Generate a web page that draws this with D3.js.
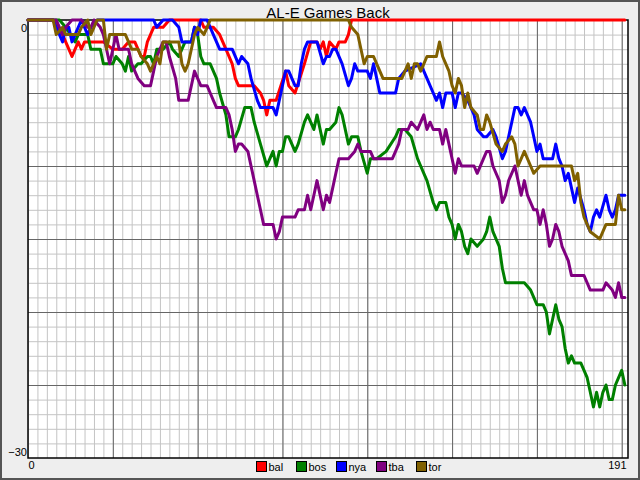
<!DOCTYPE html>
<html><head><meta charset="utf-8">
<script src="https://cdn.jsdelivr.net/npm/d3@7"></script>
<style>body{margin:0;background:#eee} svg{display:block} text{font-family:"Liberation Sans",Arial,sans-serif}</style>
</head><body><svg id="c" width="640" height="480"></svg>
<script>
const title = "AL-E Games Back";
const teams = ["bal","bos","nya","tba","tor"];
const colors = ["#ff0000","#008000","#0000ff","#800080","#806000"];
// [day, games back]
const bal = [[0,0],[8,0],[11,1],[13,2],[14,2.5],[15,2],[16,1.5],[17,2],[18,1.5],[24,1.5],[27,2],[30,2],[32,1.5],[34,1.5],[35,2],[36,2.5],[37,2.5],[38,1.5],[40,0.5],[43,0.5],[45,0],[55,0],[56,0.5],[59,0.5],[61,1],[63,2],[65,3],[66,4],[67,4.5],[72,4.5],[74,5],[75,5.5],[76,6.5],[77,5.5],[79,5.5],[82,3.5],[83,4.5],[85,5],[88,3],[90,1.5],[92,1.5],[93,2],[94,1.5],[95,2.5],[96,1.5],[98,2],[99,1.5],[101,1.5],[102,1],[103,0],[190,0]];
const bos = [[0,0],[10,0],[12,0.5],[15,1.5],[16,1],[17,1],[19,1],[20,2],[23,2],[24,3],[27,3],[28,2.5],[30,3],[31,3.5],[32,2.5],[33,3.5],[35,3],[36,3],[38,2.5],[39,2.5],[40,3],[41,2],[43,2],[45,1.5],[46,2],[48,2.5],[49,2],[50,1.5],[52,1.5],[53,0.5],[54,1],[55,2.5],[56,3],[58,3],[60,4],[61,5],[63,6.5],[64,8],[66,8],[67,7.5],[69,6],[71,6],[72,7],[74,8.5],[76,10],[77,9.5],[78,9],[79,10],[80,9],[81,9],[82,8],[83,8],[85,9],[86,8.5],[88,7],[89,6.5],[90,7],[91,7.5],[92,6.5],[93,7.5],[94,8.5],[95,7.5],[96,7.5],[98,7],[99,6],[100,6.5],[102,8.5],[103,8],[105,8],[106,9],[108,10.5],[109,9.5],[111,9.5],[114,9],[117,8],[118,7.5],[120,7.5],[122,8],[124,9.5],[125,10],[126,10.5],[127,11],[129,12.5],[130,13],[131,12.5],[133,12.5],[134,13.5],[135,14],[136,15],[137,14],[138,14.5],[139,15.5],[140,16],[141,15],[143,15.5],[145,15],[146,14.5],[147,13.5],[148,14.5],[150,15.5],[151,17],[152,18],[158,18],[160,18.5],[161,19],[162,19.5],[164,19.5],[165,20],[166,21.5],[167,20.5],[168,19.5],[169,20.5],[170,21],[171,22.5],[172,23.5],[173,23],[174,23.5],[176,23.5],[177,24],[178,24.5],[179,25.5],[180,26.5],[181,25.5],[182,26.5],[183,25.5],[184,25],[185,26],[186,26],[187,25],[188,24.5],[189,24],[190,25]];
const nya = [[0,0],[8,0],[11,1.5],[12,0.5],[13,0.5],[14,1.5],[15,1],[17,0],[18,0.5],[19,1],[20,0.5],[22,0],[40,0],[41,0.5],[43,0],[46,0],[48,0.5],[49,1.5],[52,1.5],[53,0.5],[54,1],[55,0],[57,0],[58,0.5],[60,1.5],[61,2],[65,2],[67,3],[68,2.5],[70,3],[71,4],[73,5.5],[74,6],[78,6],[79,6.5],[80,5.5],[81,4.5],[82,3.5],[83,3.5],[85,4.5],[86,4.5],[87,3],[88,2],[89,1.5],[92,1.5],[94,3],[95,2.5],[96,2.5],[97,2],[98,2],[100,3],[102,4.5],[103,4],[104,3],[105,3.5],[108,3.5],[109,4],[110,3],[111,4],[112,5],[117,5],[118,4],[120,3.5],[125,3],[127,4],[129,5],[130,5.5],[131,5],[132,6],[133,5],[135,5],[136,6],[137,5],[138,5],[140,5.5],[141,6],[142,6.5],[143,7.5],[145,8],[146,8],[148,7.5],[149,8],[151,9.5],[152,9],[153,8],[154,7],[155,6],[156,6],[157,6.5],[158,6],[160,7],[161,8],[162,9],[163,8.5],[164,9.5],[167,9.5],[168,8.5],[169,9.5],[170,10],[171,11],[172,10.5],[173,11.5],[174,12.5],[175,11.5],[177,13],[178,14],[179,14.5],[180,13.5],[181,13],[182,13.5],[184,12],[185,13],[186,13.5],[187,13],[188,12],[190,12]];
const tba = [[0,0],[9,0],[10,0.5],[11,1],[12,0.5],[14,0],[17,0],[19,0.5],[20,0.5],[21,0],[23,0.5],[24,1],[25,2],[26,3],[27,2],[28,1],[29,2],[32,2],[33,3],[35,4],[37,4.5],[39,4.5],[40,3.5],[41,2.5],[43,1.5],[44,1.5],[45,2.5],[47,4],[48,5.5],[51,5.5],[52,4.5],[53,3.5],[54,4],[55,4.5],[57,4.5],[58,5],[59,5.5],[60,6],[63,6],[64,6.5],[65,7.5],[66,9],[67,8.5],[68,8.5],[70,9],[71,10],[72,11],[73,12],[74,13],[75,14],[78,14],[79,15],[80,14.5],[81,13.5],[85,13.5],[86,13],[88,13],[89,12],[90,13],[91,12],[92,11],[93,12],[94,13],[95,12],[96,12.5],[97,11.5],[98,10.5],[99,9.5],[102,9.5],[104,9],[105,8.5],[106,9],[109,9],[110,9.5],[116,9.5],[117,9],[118,8.5],[119,7.5],[121,7.5],[122,7],[124,7.5],[125,7],[126,6.5],[127,7.5],[128,7],[129,7.5],[131,7.5],[132,8.5],[133,7.5],[134,8.5],[135,9.5],[136,10.5],[137,9.5],[138,10],[142,10],[143,10.5],[145,9.5],[146,9],[147,9],[148,10],[150,11],[151,12.5],[152,12],[153,11],[155,10],[156,11],[157,12],[158,11],[159,12],[161,13],[162,13],[163,14],[164,13],[165,14],[166,15.5],[167,15],[168,14],[169,14.5],[170,15.5],[172,16.5],[173,17.5],[177,17.5],[179,18.5],[183,18.5],[184,18],[186,18.5],[187,19],[188,18],[189,19],[190,19]];
const tor = [[0,0],[8,0],[9,1],[11,0.5],[12,1],[16,1],[17,0.5],[19,0],[20,1],[22,0],[24,0],[25,2],[26,1],[29,1],[31,1],[32,1.5],[33,2],[35,2],[36,2.5],[38,3],[39,3.5],[40,3],[41,2.5],[42,3],[43,1.5],[48,1.5],[49,3],[50,3.5],[51,3],[52,2],[53,1],[54,0.5],[56,1],[57,0.5],[58,0],[102,0],[103,0.5],[105,1],[106,2],[107,3],[108,2.5],[110,2.5],[111,3],[112,3.5],[113,4],[119,4],[120,3.5],[121,3],[122,4],[123,3],[124,3],[125,3.5],[126,3],[127,2.5],[130,2.5],[131,1.5],[132,2.5],[133,3],[134,3.5],[135,4.5],[136,5],[137,4],[138,4.5],[139,6],[140,5],[141,6],[143,6.5],[144,7.5],[145,7.5],[146,6.5],[147,7],[149,8.5],[151,9],[152,8.5],[154,8],[155,8.5],[156,10],[158,9],[160,10],[161,10.5],[163,10],[173,10],[174,11],[175,10.5],[176,12.5],[177,13.5],[179,14.5],[182,15],[183,14.5],[184,14],[187,14],[188,12],[189,13],[190,13]];
const seriesData = [bal, bos, nya, tba, tor];
const xTickLabels = ["0", "191"];
const yTickLabels = ["0", "\u221230"];

const W = 640, H = 480;
const L = 28, R = 628, T = 20, B = 458;
const svg = d3.select("#c");
svg.append("rect").attr("width", W).attr("height", H).attr("fill", "#eeeeee");
svg.append("rect").attr("x", 1).attr("y", 1).attr("width", W - 2).attr("height", H - 2)
  .attr("fill", "none").attr("stroke", "#555").attr("stroke-width", 2);

const x = d3.scaleLinear().domain([0, 191]).range([L, R]);
const y = d3.scaleLinear().domain([-30, 0]).range([B, T]);

svg.append("rect").attr("x", L).attr("y", T).attr("width", R - L).attr("height", B - T).attr("fill", "#fff");

function styleGrid(g, color) {
  g.select(".domain").remove();
  g.selectAll(".tick line").attr("stroke", color).attr("stroke-width", 1);
}
const minorX = d3.range(0, 192, 3), majorX = d3.range(27, 191, 27);
const minorY = d3.range(-29, 0, 1), majorY = d3.range(-25, 0, 5);
svg.append("g").attr("transform", `translate(0,${B})`)
  .call(d3.axisBottom(x).tickValues(minorX).tickSize(-(B - T)).tickFormat(""))
  .call(g => styleGrid(g, "#c4c4c4"));
svg.append("g").attr("transform", `translate(${L},0)`)
  .call(d3.axisLeft(y).tickValues(minorY).tickSize(-(R - L)).tickFormat(""))
  .call(g => styleGrid(g, "#c4c4c4"));
svg.append("g").attr("transform", `translate(0,${B})`)
  .call(d3.axisBottom(x).tickValues(majorX).tickSize(-(B - T)).tickFormat(""))
  .call(g => styleGrid(g, "#666"));
svg.append("g").attr("transform", `translate(${L},0)`)
  .call(d3.axisLeft(y).tickValues(majorY).tickSize(-(R - L)).tickFormat(""))
  .call(g => styleGrid(g, "#666"));

svg.append("rect").attr("x", L).attr("y", T).attr("width", R - L).attr("height", B - T)
  .attr("fill", "none").attr("stroke", "#000").attr("stroke-width", 1.5);

const line = d3.line().x(d => x(d[0])).y(d => y(-d[1]));
seriesData.forEach((s, i) => {
  svg.append("path").datum(s).attr("d", line).attr("fill", "none")
    .attr("stroke", colors[i]).attr("stroke-width", 3)
    .attr("stroke-linejoin", "round").attr("stroke-linecap", "round");
});

svg.append("text").attr("x", 328).attr("y", 17.5).attr("text-anchor", "middle")
  .attr("font-size", 15).text(title);

svg.append("text").attr("x", L - 1).attr("y", y(0) + 12).attr("text-anchor", "end")
  .attr("font-size", 11).text(yTickLabels[0]);
svg.append("text").attr("x", L - 1).attr("y", y(-30) - 2).attr("text-anchor", "end")
  .attr("font-size", 11).text(yTickLabels[1]);
svg.append("text").attr("x", x(0) + 0.5).attr("y", 468.5).attr("text-anchor", "start")
  .attr("font-size", 11).text(xTickLabels[0]);
svg.append("text").attr("x", x(191) - 1.5).attr("y", 468.5).attr("text-anchor", "end")
  .attr("font-size", 11).text(xTickLabels[1]);

const leg = svg.append("g");
teams.forEach((t, i) => {
  const lx = 256.5 + 40 * i;
  leg.append("rect").attr("x", lx).attr("y", 461.5).attr("width", 10).attr("height", 10)
    .attr("fill", colors[i]).attr("stroke", "#000").attr("stroke-width", 1);
  leg.append("text").attr("x", lx + 12).attr("y", 471).attr("font-size", 11).text(t);
});
</script></body></html>
